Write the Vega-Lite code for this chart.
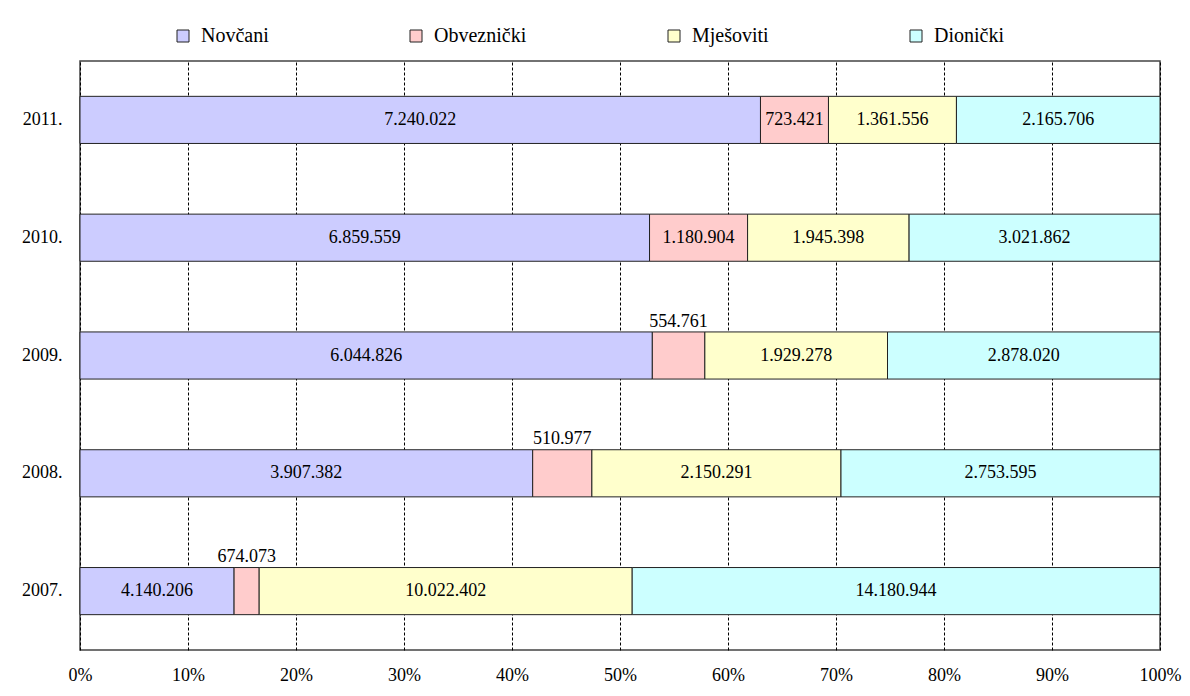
{
  "$schema": "https://vega.github.io/schema/vega-lite/v6.json",
  "width": 1080,
  "height": 589,
  "autosize": {"type": "none"},
  "padding": {"left": 80, "top": 61, "right": 30, "bottom": 46},
  "background": "white",
  "data": {
    "values": [
      {"year": "2011.", "type": "Novčani", "value": 7240022},
      {"year": "2011.", "type": "Obveznički", "value": 723421},
      {"year": "2011.", "type": "Mješoviti", "value": 1361556},
      {"year": "2011.", "type": "Dionički", "value": 2165706},
      {"year": "2010.", "type": "Novčani", "value": 6859559},
      {"year": "2010.", "type": "Obveznički", "value": 1180904},
      {"year": "2010.", "type": "Mješoviti", "value": 1945398},
      {"year": "2010.", "type": "Dionički", "value": 3021862},
      {"year": "2009.", "type": "Novčani", "value": 6044826},
      {"year": "2009.", "type": "Obveznički", "value": 554761},
      {"year": "2009.", "type": "Mješoviti", "value": 1929278},
      {"year": "2009.", "type": "Dionički", "value": 2878020},
      {"year": "2008.", "type": "Novčani", "value": 3907382},
      {"year": "2008.", "type": "Obveznički", "value": 510977},
      {"year": "2008.", "type": "Mješoviti", "value": 2150291},
      {"year": "2008.", "type": "Dionički", "value": 2753595},
      {"year": "2007.", "type": "Novčani", "value": 4140206},
      {"year": "2007.", "type": "Obveznički", "value": 674073},
      {"year": "2007.", "type": "Mješoviti", "value": 10022402},
      {"year": "2007.", "type": "Dionički", "value": 14180944}
    ]
  },
  "transform": [
    {"stack": "value", "groupby": ["year"], "offset": "normalize", "as": ["v0", "v1"]},
    {"calculate": "(datum.v0 + datum.v1) / 2", "as": "mid"},
    {"calculate": "datum.v1 - datum.v0", "as": "share"}
  ],
  "encoding": {
    "y": {
      "field": "year",
      "type": "nominal",
      "sort": ["2011.", "2010.", "2009.", "2008.", "2007."],
      "scale": {"paddingInner": 0.6, "paddingOuter": 0.3},
      "axis": {"title": null, "domain": false, "ticks": false, "labelPadding": 18, "labelFontSize": 18, "labelColor": "#000", "grid": false}
    }
  },
  "layer": [
    {
      "mark": {"type": "bar", "stroke": "#222", "strokeWidth": 1},
      "encoding": {
        "x": {
          "field": "v0",
          "type": "quantitative",
          "scale": {"domain": [0, 1], "nice": false},
          "axis": {
            "title": null,
            "format": ".0%",
            "values": [0, 0.1, 0.2, 0.3, 0.4, 0.5, 0.6, 0.7, 0.8, 0.9, 1],
            "domain": false,
            "ticks": false,
            "labelFlush": false,
            "labelPadding": 16,
            "labelFontSize": 18,
            "labelColor": "#000",
            "grid": true,
            "gridColor": "#000",
            "gridDash": [3, 2],
            "gridWidth": 1
          }
        },
        "x2": {"field": "v1"},
        "color": {
          "field": "type",
          "type": "nominal",
          "scale": {
            "domain": ["Novčani", "Obveznički", "Mješoviti", "Dionički"],
            "range": ["#CCCCFF", "#FFCCCC", "#FFFFCC", "#CCFFFF"]
          },
          "legend": {
            "title": null,
            "orient": "none",
            "direction": "horizontal",
            "legendX": 93,
            "legendY": -35,
            "symbolType": "square",
            "symbolSize": 144,
            "symbolStrokeColor": "#222",
            "symbolStrokeWidth": 1,
            "labelFontSize": 20,
            "labelColor": "#000",
            "labelOffset": 8,
            "columnPadding": 137,
            "padding": 0
          }
        }
      }
    },
    {
      "transform": [{"filter": "datum.share >= 0.06"}],
      "mark": {"type": "text", "fontSize": 18, "baseline": "middle", "align": "center", "color": "#000"},
      "encoding": {
        "x": {"field": "mid", "type": "quantitative"},
        "text": {"field": "value", "type": "quantitative", "format": ",d"}
      }
    },
    {
      "transform": [{"filter": "datum.share < 0.06"}],
      "mark": {"type": "text", "fontSize": 18, "baseline": "alphabetic", "align": "center", "dy": -29, "color": "#000"},
      "encoding": {
        "x": {"field": "mid", "type": "quantitative"},
        "text": {"field": "value", "type": "quantitative", "format": ",d"}
      }
    }
  ],
  "config": {
    "font": "Liberation Serif",
    "view": {"stroke": "#444", "strokeWidth": 1.5},
    "locale": {
      "number": {"decimal": ",", "thousands": ".", "grouping": [3], "currency": ["", ""]}
    }
  }
}
